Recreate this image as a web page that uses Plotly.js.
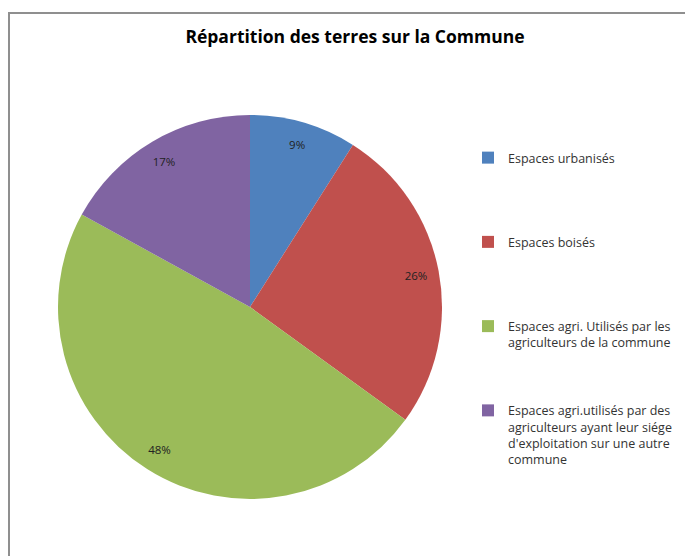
<!DOCTYPE html>
<html><head><meta charset="utf-8">
<script src="https://cdn.plot.ly/plotly-3.0.1.min.js"></script>
<style>
html,body{margin:0;padding:0;width:685px;height:556px;overflow:hidden;background:#fff;}
#chart{position:absolute;left:8px;top:12px;width:690px;height:560px;border-left:2px solid #8f8f8f;border-top:2px solid #8f8f8f;}
</style></head><body>
<div id="chart"></div>
<script>
const titleText = "Répartition des terres sur la Commune";
const categories = [
  "Espaces urbanisés",
  "Espaces boisés",
  "Espaces agri. Utilisés par les<br>agriculteurs de la commune",
  "Espaces agri.utilisés par des<br>agriculteurs ayant leur siége<br>d'exploitation sur une autre<br>commune"
];
const values = [9, 26, 48, 17];
const colors = ["#4F81BD", "#C0504D", "#9BBB59", "#8064A2"];

// pad legend entries to equal height (Excel-like even spacing)
const padLines = 5;
const legendLabels = categories.map(c => {
  const n = c.split("<br>").length;
  return c + "<br> ".repeat(Math.max(0, padLines - n));
});

const W = 690, H = 560;
const cx = 240, cy = 293, r = 192;
const domain = {x: [(cx - r) / W, (cx + r) / W], y: [(H - cy - r) / H, (H - cy + r) / H]};
const pieTrace = {
  type: "pie",
  labels: legendLabels,
  values: values,
  sort: false,
  direction: "clockwise",
  rotation: 0,
  marker: {colors: colors, line: {width: 0}},
  textinfo: "none",
  hoverinfo: "label+percent",
  domain: domain
};
// transparent ring overlay: carries the percentage labels near the outer edge
const labelTrace = {
  type: "pie",
  labels: legendLabels,
  values: values,
  sort: false,
  direction: "clockwise",
  rotation: 0,
  hole: 0.76,
  showlegend: false,
  marker: {colors: colors.map(() => "rgba(0,0,0,0)"), line: {width: 0}},
  texttemplate: "%{percent:.0%}",
  textposition: "inside",
  insidetextorientation: "horizontal",
  textfont: {family: "Open Sans, sans-serif", size: 11.5, color: "#222"},
  hoverinfo: "skip",
  domain: domain
};
const layout = {
  width: W, height: H,
  margin: {l: 0, r: 0, t: 0, b: 0},
  paper_bgcolor: "#fff",
  title: {text: "<b>" + titleText + "</b>", font: {family: "Open Sans, sans-serif", size: 17.5, color: "#000"},
          x: 0.5, xref: "paper", xanchor: "center", y: 1 - 23 / H, yanchor: "middle"},
  showlegend: true,
  legend: {x: 458 / W, xanchor: "left", y: 1 - 129 / H, yanchor: "top", valign: "top",
           font: {family: "Open Sans, sans-serif", size: 12.5, color: "#333"},
           bgcolor: "rgba(0,0,0,0)", tracegroupgap: 0}
};
Plotly.newPlot("chart", [pieTrace, labelTrace], layout, {displayModeBar: false, staticPlot: true});
</script></body></html>
